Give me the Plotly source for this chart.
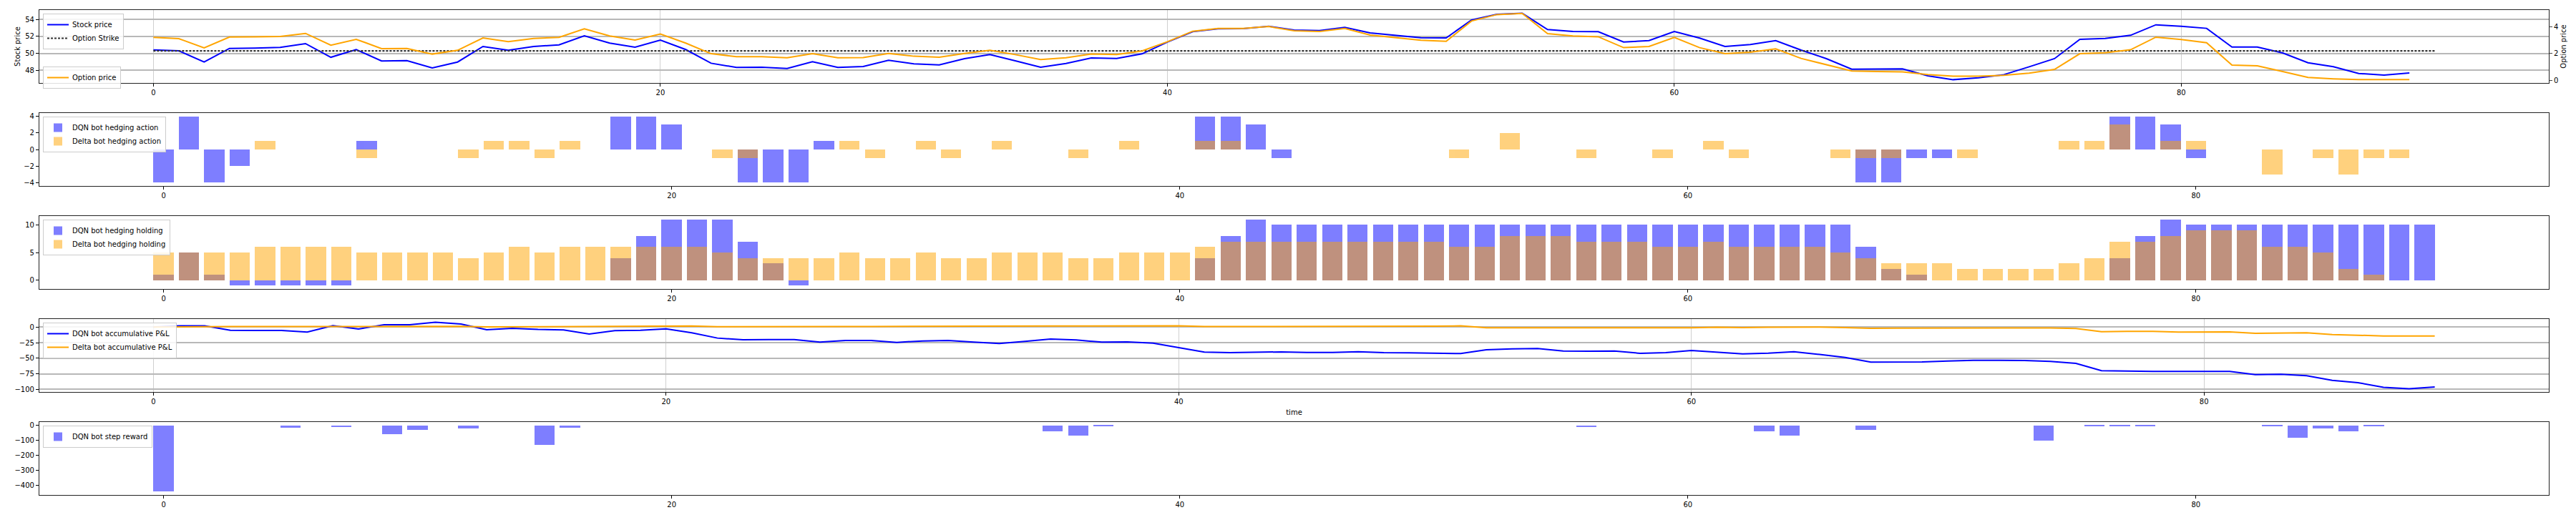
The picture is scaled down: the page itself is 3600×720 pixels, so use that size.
import plotly.graph_objects as go

# ---------------- data ----------------
stock_price = [50.41, 50.30, 48.98, 50.58, 50.61, 50.70, 51.15, 49.54, 50.45, 49.10,
               49.15, 48.28, 48.98, 50.81, 50.36, 50.81, 51.00, 52.08, 51.21, 50.73,
               51.57, 50.45, 48.84, 48.34, 48.36, 48.22, 49.01, 48.34, 48.45, 49.18,
               48.76, 48.64, 49.38, 49.86, 49.12, 48.36, 48.81, 49.46, 49.40, 49.94,
               51.32, 52.56, 52.89, 52.92, 53.20, 52.75, 52.69, 53.06, 52.41, 52.13,
               51.85, 51.82, 53.93, 54.61, 54.72, 52.81, 52.58, 52.56, 51.34, 51.51,
               52.58, 51.80, 50.81, 51.04, 51.51, 50.39, 49.38, 48.14, 48.14, 48.17,
               47.35, 46.90, 47.12, 47.49, 48.42, 49.38, 51.65, 51.76, 52.13, 53.37,
               53.20, 52.95, 50.75, 50.75, 50.05, 48.89, 48.42, 47.63, 47.43, 47.69]
option_strike = 50.3
option_price = [3.19, 3.10, 2.41, 3.22, 3.24, 3.26, 3.49, 2.61, 3.05, 2.36,
                2.37, 1.95, 2.23, 3.15, 2.87, 3.12, 3.19, 3.83, 3.30, 2.99,
                3.44, 2.77, 1.98, 1.76, 1.76, 1.68, 1.98, 1.68, 1.69, 2.00,
                1.79, 1.72, 2.00, 2.23, 1.91, 1.54, 1.68, 1.95, 1.91, 2.18,
                2.87, 3.65, 3.86, 3.86, 4.00, 3.69, 3.63, 3.86, 3.37, 3.17,
                2.98, 2.90, 4.41, 4.89, 4.98, 3.47, 3.30, 3.24, 2.43, 2.52,
                3.19, 2.43, 1.98, 2.09, 2.34, 1.63, 1.15, 0.69, 0.65, 0.62,
                0.43, 0.30, 0.30, 0.37, 0.53, 0.81, 1.98, 2.05, 2.27, 3.21,
                3.03, 2.80, 1.13, 1.08, 0.65, 0.21, 0.11, 0.05, 0.05, 0.05]
dqn_action = [-4, 4, -4, -2, 0, 0, 0, 0, 1, 0,
              0, 0, 0, 0, 0, 0, 0, 0, 4, 4,
              3, 0, 0, -4, -4, -4, 1, 0, 0, 0,
              0, 0, 0, 0, 0, 0, 0, 0, 0, 0,
              0, 4, 4, 3, -1, 0, 0, 0, 0, 0,
              0, 0, 0, 0, 0, 0, 0, 0, 0, 0,
              0, 0, 0, 0, 0, 0, 0, -4, -4, -1,
              -1, 0, 0, 0, 0, 0, 0, 4, 4, 3,
              -1, 0, 0, 0, 0, 0, 0, 0, 0, 0]
delta_action = [0, 0, 0, 0, 1, 0, 0, 0, -1, 0,
                0, 0, -1, 1, 1, -1, 1, 0, 0, 0,
                0, 0, -1, -1, 0, 0, 0, 1, -1, 0,
                1, -1, 0, 1, 0, 0, -1, 0, 1, 0,
                0, 1, 1, 0, 0, 0, 0, 0, 0, 0,
                0, -1, 0, 2, 0, 0, -1, 0, 0, -1,
                0, 1, -1, 0, 0, 0, -1, -1, -1, 0,
                0, -1, 0, 0, 0, 1, 1, 3, 0, 1,
                1, 0, 0, -3, 0, -1, -3, -1, -1, 0]
dqn_holding = [1, 5, 1, -1, -1, -1, -1, -1, 0, 0,
               0, 0, 0, 0, 0, 0, 0, 0, 4, 8,
               11, 11, 11, 7, 3, -1, 0, 0, 0, 0,
               0, 0, 0, 0, 0, 0, 0, 0, 0, 0,
               0, 4, 8, 11, 10, 10, 10, 10, 10, 10,
               10, 10, 10, 10, 10, 10, 10, 10, 10, 10,
               10, 10, 10, 10, 10, 10, 10, 6, 2, 1,
               0, 0, 0, 0, 0, 0, 0, 4, 8, 11,
               10, 10, 10, 10, 10, 10, 10, 10, 10, 10]
delta_holding = [5, 5, 5, 5, 6, 6, 6, 6, 5, 5,
                 5, 5, 4, 5, 6, 5, 6, 6, 6, 6,
                 6, 6, 5, 4, 4, 4, 4, 5, 4, 4,
                 5, 4, 4, 5, 5, 5, 4, 4, 5, 5,
                 5, 6, 7, 7, 7, 7, 7, 7, 7, 7,
                 7, 6, 6, 8, 8, 8, 7, 7, 7, 6,
                 6, 7, 6, 6, 6, 6, 5, 4, 3, 3,
                 3, 2, 2, 2, 2, 3, 4, 7, 7, 8,
                 9, 9, 9, 6, 6, 5, 2, 1, 0, 0]
dqn_pnl = [0, 2, 2, -5, -5.4, -5.4, -8, 2.3, -3, 3.8,
           3.8, 7.7, 5, -4.2, -1.9, -3.8, -4.6, -11, -5.7, -5,
           -2.7, -9.2, -17.6, -20.3, -20, -20, -24, -21.5, -21.5, -24.5,
           -22.2, -21.5, -24.1, -26.4, -23, -19.2, -20.7, -24.1, -23.8, -25.7,
           -33, -40.2, -41, -40.6, -39.8, -40.6, -40.6, -39.5, -41, -41.4,
           -42.1, -42.5, -36.4, -34.9, -34.5, -38.3, -38.7, -38.3, -42.1, -41,
           -37.5, -39.8, -42.9, -41.8, -39.5, -44, -48.7, -56.3, -56.3, -55.9,
           -54.4, -53.3, -53.3, -53.6, -55.2, -58.2, -70.1, -70.9, -71.3, -71.3,
           -71.3, -71.3, -76.2, -75.9, -78.2, -85.4, -89.3, -96.6, -98.9, -96.2]
delta_pnl = [0, 0.5, 0.5, 0.8, 0.8, 0.8, 0.8, 1, 1, 1,
             1, 1.2, 1.2, 0.3, 0.5, 0.7, 1, 1.2, 1.5, 1.7,
             1.8, 1.8, 0.6, 0.5, 0.5, 0.6, 0.7, 0.8, 1, 1.2,
             1.5, 1.5, 1.5, 1.5, 1.5, 1.8, 1.8, 2, 2, 2.2,
             2, 0.8, 0.8, 0.9, 1, 1, 1, 1.2, 1.2, 1.4,
             1.4, 2.0, -1, -1.2, -1.2, -1.2, -1.1, -1.1, -1.1, -1.1,
             -1.1, -0.2, -0.8, -0.2, 0, 0, -0.8, -1.9, -1.6, -1.5,
             -1.4, -1.4, -1.6, -1.6, -1.4, -2.3, -7.3, -6.9, -6.9, -8,
             -7.7, -7.7, -10, -9.2, -9.2, -11.9, -13, -14.2, -14.4, -14.4]
dqn_reward = [-440, 0, 0, 0, 0, -15, 0, -10, 0, -60,
              -30, 0, -20, 0, 0, -130, -15, 0, 0, 0,
              0, 0, 0, 0, 0, 0, 0, 0, 0, 0,
              0, 0, 0, 0, 0, -40, -70, -5, 0, 0,
              0, 0, 0, 0, 0, 0, 0, 0, 0, 0,
              0, 0, 0, 0, 0, 0, -10, 0, 0, 0,
              0, 0, 0, -40, -70, 0, 0, -30, 0, 0,
              0, 0, 0, 0, -100, 0, -5, -5, -5, 0,
              0, 0, 0, -5, -80, -20, -40, -5, 0, 0]

time = list(range(len(stock_price)))
strike_time = list(range(len(stock_price) + 1))
step_time = list(range(len(dqn_action)))

BLUE = "#0000ff"
ORANGE = "#ffa500"
FONT = "DejaVu Sans"

fig = go.Figure()

# panel 1
fig.add_trace(go.Scatter(x=time, y=stock_price, mode="lines", name="Stock price",
                         line=dict(color=BLUE, width=2), xaxis="x", yaxis="y", legend="legend"))
fig.add_trace(go.Scatter(x=strike_time, y=[option_strike] * len(strike_time), mode="lines",
                         name="Option Strike", line=dict(color="#333333", width=2.2, dash="3px,2px"),
                         xaxis="x", yaxis="y", legend="legend"))
fig.add_trace(go.Scatter(x=time, y=option_price, mode="lines", name="Option price",
                         line=dict(color=ORANGE, width=2), xaxis="x", yaxis="y6", legend="legend2"))
# panel 2
fig.add_trace(go.Bar(x=step_time, y=dqn_action, name="DQN bot hedging action", width=0.8,
                     marker=dict(color=BLUE, line=dict(width=0)), opacity=0.5,
                     xaxis="x2", yaxis="y2", legend="legend3"))
fig.add_trace(go.Bar(x=step_time, y=delta_action, name="Delta bot hedging action", width=0.8,
                     marker=dict(color=ORANGE, line=dict(width=0)), opacity=0.5,
                     xaxis="x2", yaxis="y2", legend="legend3"))
# panel 3
fig.add_trace(go.Bar(x=step_time, y=dqn_holding, name="DQN bot hedging holding", width=0.8,
                     marker=dict(color=BLUE, line=dict(width=0)), opacity=0.5,
                     xaxis="x3", yaxis="y3", legend="legend4"))
fig.add_trace(go.Bar(x=step_time, y=delta_holding, name="Delta bot hedging holding", width=0.8,
                     marker=dict(color=ORANGE, line=dict(width=0)), opacity=0.5,
                     xaxis="x3", yaxis="y3", legend="legend4"))
# panel 4
fig.add_trace(go.Scatter(x=step_time, y=dqn_pnl, mode="lines", name="DQN bot accumulative P&L",
                         line=dict(color=BLUE, width=2), xaxis="x4", yaxis="y4", legend="legend5"))
fig.add_trace(go.Scatter(x=step_time, y=delta_pnl, mode="lines", name="Delta bot accumulative P&L",
                         line=dict(color=ORANGE, width=2), xaxis="x4", yaxis="y4", legend="legend5"))
# panel 5
fig.add_trace(go.Bar(x=step_time, y=dqn_reward, name="DQN bot step reward", width=0.8,
                     marker=dict(color=BLUE, line=dict(width=0)), opacity=0.5,
                     xaxis="x5", yaxis="y5", legend="legend6"))

W, H = 3600, 720
XD = [55 / W, 3562 / W]


def ydom(top, bottom):
    return [1 - bottom / H, 1 - top / H]


tickfont = dict(family=FONT, size=10, color="#000000")


def xax(anchor, rng, grid, title=None):
    d = dict(domain=XD, anchor=anchor, range=rng, tickvals=[0, 20, 40, 60, 80],
             ticks="outside", ticklen=4, tickcolor="#000000", tickfont=tickfont,
             showline=True, mirror=True, linecolor="#222222", linewidth=1.2,
             showgrid=grid, gridcolor="#d0d0d0", gridwidth=0.8, zeroline=False,
             automargin=False)
    if title:
        d["title"] = dict(text=title, font=dict(family=FONT, size=10), standoff=6)
    return d


def yax(anchor, dom, rng, tickvals, grid, title=None):
    d = dict(domain=dom, anchor=anchor, range=rng, tickvals=tickvals,
             ticks="outside", ticklen=4, tickcolor="#000000", tickfont=tickfont,
             showline=True, mirror=True, linecolor="#222222", linewidth=1.2,
             showgrid=grid, gridcolor="#b8b8b8", gridwidth=1.6, zeroline=False,
             automargin=False)
    if title:
        d["title"] = dict(text=title, font=dict(family=FONT, size=10), standoff=4)
    return d


legend_style = dict(bgcolor="rgba(255,255,255,0.85)", bordercolor="#cccccc", borderwidth=1,
                    font=dict(family=FONT, size=10, color="#000000"), xanchor="left",
                    yanchor="top", itemwidth=30, tracegroupgap=0)


def leg(x_px, top_px):
    d = dict(legend_style)
    d["x"] = x_px / W
    d["y"] = 1 - top_px / H
    return d


fig.update_layout(
    width=W, height=H, autosize=False,
    margin=dict(l=0, r=0, t=0, b=0, autoexpand=False),
    paper_bgcolor="white", plot_bgcolor="white",
    font=dict(family=FONT, size=10, color="#000000"),
    barmode="overlay", bargap=0,
    xaxis=xax("y", [-4.5, 94.5], True),
    yaxis=yax("x", ydom(14, 116), [46.51, 55.11], [48, 50, 52, 54], True, "Stock price"),
    yaxis6=dict(overlaying="y", side="right", anchor="x", range=[-0.2, 5.23], tickvals=[0, 2, 4],
                ticks="outside", ticklen=4, tickfont=tickfont, showgrid=False, zeroline=False,
                automargin=False,
                title=dict(text="Option price", font=dict(family=FONT, size=10), standoff=4)),
    xaxis2=xax("y2", [-4.89, 93.89], False),
    yaxis2=yax("x2", ydom(158, 260), [-4.4, 4.4], [-4, -2, 0, 2, 4], False),
    xaxis3=xax("y3", [-4.89, 93.89], False),
    yaxis3=yax("x3", ydom(302, 404), [-1.6, 11.6], [0, 5, 10], False),
    xaxis4=xax("y4", [-4.45, 93.45], True, "time"),
    yaxis4=yax("x4", ydom(446, 548), [-104.2, 13.0], [0, -25, -50, -75, -100], True),
    xaxis5=xax("y5", [-4.89, 93.89], False),
    yaxis5=yax("x5", ydom(590, 692), [-462, 22], [0, -100, -200, -300, -400], False),
    legend=leg(60, 19),
    legend2=leg(60, 93),
    legend3=leg(60, 163),
    legend4=leg(60, 307),
    legend5=leg(60, 451),
    legend6=leg(60, 595),
)

fig.write_html("out.html", config={"displayModeBar": False},
               post_script="document.body.style.margin='0px';document.body.style.overflow='hidden';")
